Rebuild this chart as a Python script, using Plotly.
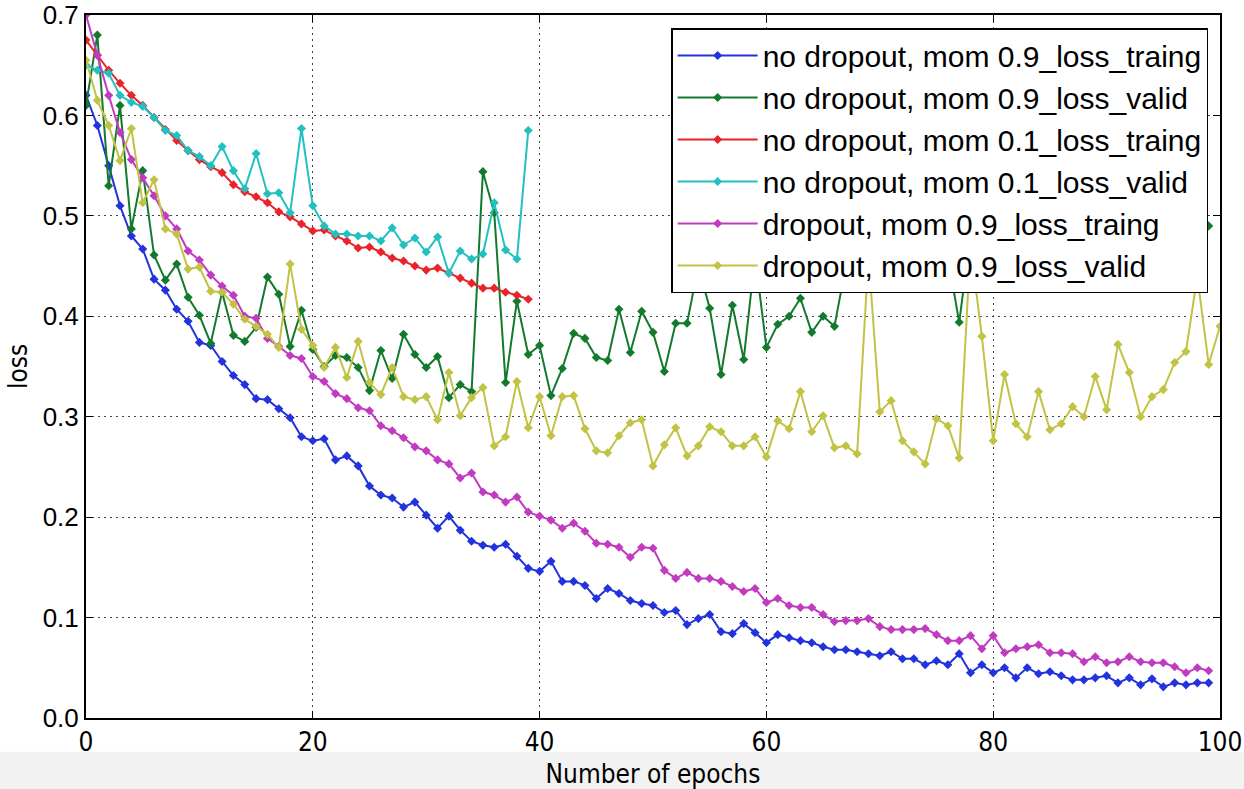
import plotly.graph_objects as go

epochs_100 = list(range(100))
epochs_101 = list(range(101))
epochs_40 = list(range(40))

nodrop_m09_train = [0.62,0.59,0.55,0.51,0.48,0.467,0.437,0.426,0.407,0.395,
0.374,0.371,0.355,0.341,0.332,0.318,0.317,0.308,0.299,0.280,
0.276,0.278,0.257,0.261,0.251,0.231,0.222,0.219,0.210,0.215,
0.202,0.189,0.201,0.187,0.176,0.172,0.170,0.173,0.161,0.149,
0.146,0.156,0.136,0.136,0.132,0.119,0.129,0.124,0.117,0.114,
0.112,0.105,0.107,0.093,0.099,0.103,0.086,0.084,0.094,0.085,
0.075,0.083,0.080,0.077,0.075,0.071,0.068,0.068,0.066,0.064,
0.062,0.066,0.059,0.059,0.053,0.057,0.053,0.064,0.045,0.053,
0.045,0.050,0.040,0.050,0.044,0.046,0.042,0.038,0.038,0.040,
0.042,0.035,0.040,0.033,0.039,0.031,0.035,0.033,0.035,0.035]

nodrop_m09_valid = [0.61,0.68,0.53,0.61,0.487,0.545,0.461,0.436,0.452,0.419,
0.401,0.373,0.424,0.381,0.375,0.389,0.439,0.422,0.37,0.406,
0.367,0.35,0.361,0.359,0.349,0.326,0.366,0.338,0.382,0.362,
0.349,0.36,0.319,0.332,0.325,0.544,0.503,0.334,0.415,0.362,
0.371,0.321,0.348,0.383,0.378,0.359,0.356,0.407,0.364,0.405,
0.384,0.345,0.393,0.393,0.45,0.408,0.342,0.411,0.357,0.46,
0.369,0.392,0.40,0.418,0.384,0.40,0.39,0.45,0.47,0.44,
0.48,0.46,0.50,0.47,0.45,0.49,0.46,0.394,0.48,0.50,
0.47,0.52,0.49,0.46,0.50,0.53,0.48,0.51,0.50,0.54,
0.47,0.52,0.50,0.55,0.49,0.53,0.51,0.56,0.52,0.49]

nodrop_m01_train = [0.675,0.66,0.645,0.632,0.62,0.61,0.598,0.586,0.575,0.565,
0.556,0.549,0.543,0.531,0.524,0.519,0.513,0.504,0.499,0.492,
0.485,0.486,0.48,0.475,0.468,0.469,0.464,0.458,0.455,0.45,
0.446,0.448,0.443,0.438,0.433,0.428,0.428,0.424,0.421,0.417]

nodrop_m01_valid = [0.65,0.645,0.642,0.62,0.613,0.609,0.598,0.585,0.58,0.565,
0.559,0.55,0.569,0.545,0.527,0.562,0.522,0.523,0.503,0.587,
0.51,0.49,0.482,0.482,0.48,0.48,0.475,0.488,0.471,0.478,
0.464,0.479,0.443,0.465,0.457,0.462,0.513,0.466,0.457,0.585]

drop_m09_train = [0.70,0.66,0.62,0.583,0.556,0.538,0.52,0.50,0.487,0.465,
0.456,0.441,0.43,0.421,0.40,0.398,0.378,0.37,0.361,0.358,
0.34,0.335,0.323,0.318,0.309,0.306,0.291,0.286,0.279,0.27,
0.266,0.257,0.253,0.239,0.244,0.225,0.222,0.215,0.22,0.205,
0.201,0.197,0.189,0.194,0.186,0.174,0.173,0.17,0.16,0.17,
0.169,0.147,0.139,0.145,0.139,0.139,0.136,0.131,0.126,0.129,
0.115,0.119,0.112,0.11,0.11,0.103,0.096,0.097,0.097,0.099,
0.091,0.088,0.088,0.088,0.089,0.083,0.077,0.077,0.082,0.069,
0.082,0.065,0.069,0.071,0.073,0.065,0.065,0.064,0.056,0.061,
0.055,0.056,0.061,0.056,0.055,0.055,0.051,0.045,0.05,0.047]

drop_m09_valid = [0.655,0.615,0.59,0.555,0.587,0.513,0.536,0.487,0.482,0.447,
0.449,0.425,0.424,0.412,0.397,0.39,0.382,0.369,0.452,0.387,
0.371,0.349,0.369,0.339,0.375,0.334,0.322,0.349,0.32,0.317,
0.32,0.297,0.344,0.301,0.319,0.329,0.271,0.28,0.335,0.289,
0.32,0.281,0.32,0.321,0.288,0.266,0.264,0.281,0.294,0.297,
0.251,0.272,0.289,0.261,0.271,0.29,0.285,0.271,0.271,0.28,
0.26,0.296,0.288,0.325,0.285,0.301,0.269,0.271,0.263,0.46,
0.305,0.316,0.276,0.265,0.253,0.298,0.291,0.259,0.47,0.38,
0.276,0.342,0.293,0.28,0.325,0.287,0.293,0.31,0.30,0.34,
0.307,0.372,0.344,0.30,0.32,0.327,0.354,0.365,0.44,0.352,
0.39]

series = [
    ("no dropout, mom 0.9_loss_traing", epochs_100, nodrop_m09_train, "#2233dd"),
    ("no dropout, mom 0.9_loss_valid", epochs_100, nodrop_m09_valid, "#127a2c"),
    ("no dropout, mom 0.1_loss_traing", epochs_40, nodrop_m01_train, "#e8232b"),
    ("no dropout, mom 0.1_loss_valid", epochs_40, nodrop_m01_valid, "#22c0c0"),
    ("dropout, mom 0.9_loss_traing", epochs_100, drop_m09_train, "#c03bc0"),
    ("dropout, mom 0.9_loss_valid", epochs_101, drop_m09_valid, "#c2c244"),
]

fig = go.Figure()
for name, xs, ys, col in series:
    fig.add_trace(go.Scatter(
        x=xs, y=ys, name=name, mode="lines+markers",
        line=dict(color=col, width=2),
        marker=dict(symbol="diamond", size=7, color=col),
        cliponaxis=True,
    ))

narrow = "Liberation Sans Narrow, DejaVu Sans Condensed, Liberation Sans, Arial"
regular = "Liberation Sans, Arial, Helvetica"

fig.update_layout(
    width=1244, height=789,
    margin=dict(l=86, r=24, t=15, b=71),
    paper_bgcolor="white", plot_bgcolor="white",
    showlegend=True,
    legend=dict(
        x=0.516, y=0.9815, xanchor="left", yanchor="top",
        bgcolor="white", bordercolor="black", borderwidth=1.5,
        font=dict(family=regular, size=30, color="black"),
        itemwidth=80, tracegroupgap=0,
    ),
    shapes=[dict(type="rect", xref="paper", yref="paper",
                 x0=-0.1, x1=1.05, y0=-0.105, y1=-0.048,
                 fillcolor="#f2f2f2", line=dict(width=0), layer="below")],
)

fig.update_xaxes(
    range=[0, 100], tickvals=[0, 20, 40, 60, 80, 100],
    showline=True, linecolor="black", linewidth=2, mirror="all",
    ticks="inside", ticklen=7, tickcolor="black",
    showgrid=True, gridcolor="#444", griddash="2px,4px", gridwidth=1,
    zeroline=False, automargin=False,
    tickfont=dict(family=narrow, size=26, color="black"),
    title=dict(text="Number of epochs", font=dict(family=narrow, size=26, color="black"), standoff=12),
)
fig.update_yaxes(
    range=[0, 0.7], tickvals=[0, 0.1, 0.2, 0.3, 0.4, 0.5, 0.6, 0.7], tickformat=".1f",
    showline=True, linecolor="black", linewidth=2, mirror="all",
    ticks="inside", ticklen=7, tickcolor="black",
    showgrid=True, gridcolor="#444", griddash="2px,4px", gridwidth=1,
    zeroline=False, automargin=False,
    tickfont=dict(family=regular, size=26, color="black"),
    title=dict(text="loss", font=dict(family=narrow, size=26, color="black"), standoff=8),
)

fig.write_html("out.html")
